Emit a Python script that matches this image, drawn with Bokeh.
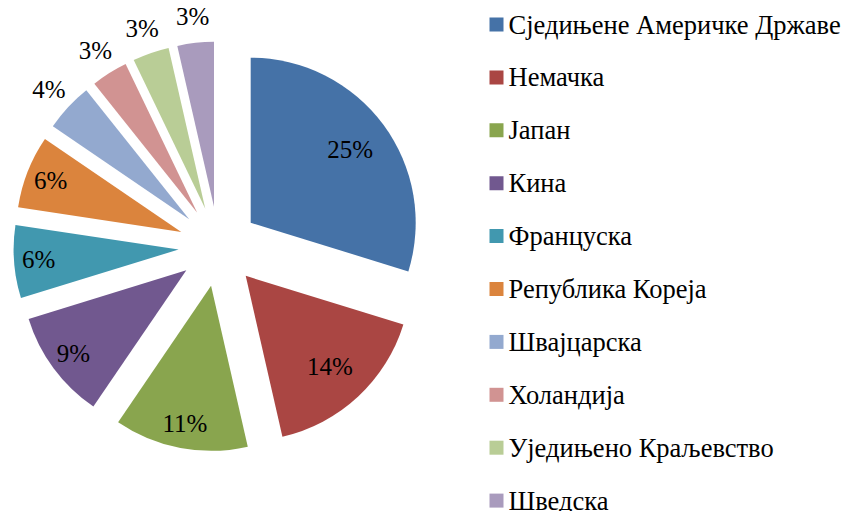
import math
from bokeh.plotting import figure
from bokeh.models import ColumnDataSource, Range1d
from bokeh.core.properties import value
from bokeh.embed import file_html
from bokeh.resources import INLINE

# ---- data ----
countries = ["Сједињене Америчке Државе", "Немачка", "Јапан", "Кина", "Француска",
             "Република Кореја", "Швајцарска", "Холандија", "Уједињено Краљевство", "Шведска"]
shares = [25, 14, 11, 9, 6, 6, 4, 3, 3, 3]
colors = ["#4572A7", "#AA4643", "#89A54E", "#71588F", "#4198AF",
          "#DB843D", "#93A9CF", "#D19392", "#B9CD96", "#A99BBD"]

# ---- layout ----
W, H = 846, 511
CX, CY = 218, H - 246
R = 165
EXPLODE = 40
FONT = value("Liberation Serif")

total = sum(shares)
ax, ay, st, en, lx, ly, lab = [], [], [], [], [], [], []
ang = 90.0
for s in shares:
    span = s / total * 360.0
    start, end = ang - span, ang
    bis = math.radians((start + end) / 2)
    x0 = CX + EXPLODE * math.cos(bis)
    y0 = CY + EXPLODE * math.sin(bis)
    ax.append(x0); ay.append(y0)
    st.append(math.radians(start)); en.append(math.radians(end))
    if span < 20:
        f = 1.16          # small slices: label outside
    elif span >= 55:
        f = 0.75          # wide slices
    else:
        f = 0.85          # narrow slices: push label outward
    lx.append(x0 + f * R * math.cos(bis))
    ly.append(y0 + f * R * math.sin(bis))
    lab.append(f"{s}%")
    ang = start

src = ColumnDataSource(dict(ax=ax, ay=ay, st=st, en=en, color=colors, lx=lx, ly=ly, lab=lab))

p = figure(width=W, height=H, x_range=Range1d(0, W), y_range=Range1d(0, H),
           output_backend="svg", toolbar_location=None, min_border=0,
           x_axis_location=None, y_axis_location=None)
p.grid.visible = False
p.outline_line_color = None
p.background_fill_color = "white"
p.border_fill_color = "white"

p.wedge(x="ax", y="ay", radius=R, start_angle="st", end_angle="en",
        fill_color="color", line_color=None, source=src)
p.text(x="lx", y="ly", text="lab", source=src, text_font=FONT, text_font_size="25px",
       text_align="center", text_baseline="middle", text_color="black")

# ---- legend (manual) ----
n = len(countries)
rows_y = [H - (24 + 52.9 * i) for i in range(n)]
leg = ColumnDataSource(dict(x=[496] * n, tx=[508] * n, y=rows_y, color=colors, name=countries))
p.rect(x="x", y="y", width=14, height=14, fill_color="color", line_color=None, source=leg)
p.text(x="tx", y="y", text="name", source=leg, text_font=FONT, text_font_size="26.5px",
       text_align="left", text_baseline="middle", text_color="black")

open("out.html", "w").write(file_html(p, INLINE))
